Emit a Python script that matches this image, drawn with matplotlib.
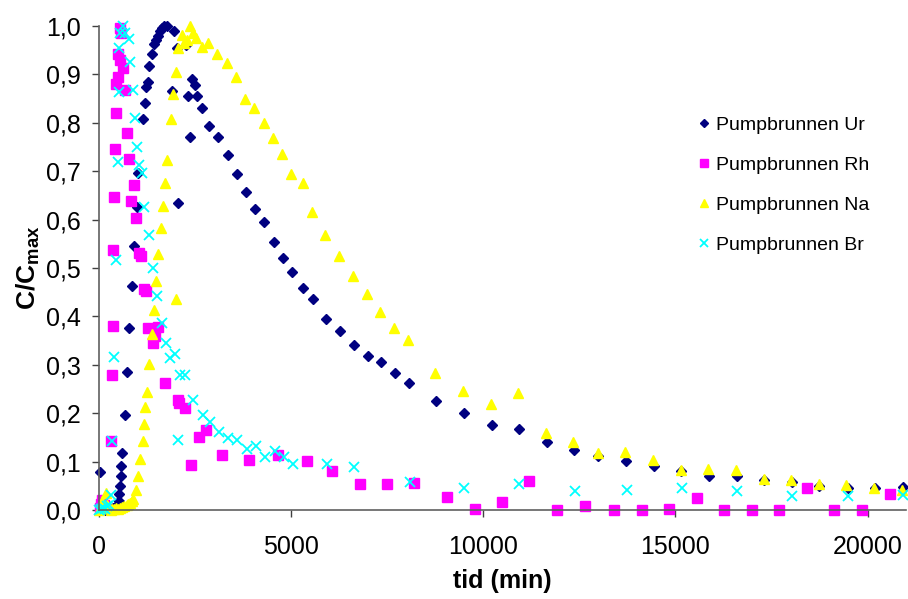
#!/usr/bin/env python3

import matplotlib
matplotlib.use('Agg')
import matplotlib.pyplot as plt
from matplotlib.ticker import FuncFormatter, MultipleLocator

# tid (min) and C/Cmax for each pumped well series
ur_t = [39, 150, 260, 360, 440, 516, 533, 551, 568, 585, 603, 672, 733, 785, 846,
        915, 984, 1020, 1150, 1193, 1236, 1270, 1314, 1392, 1436, 1496, 1548, 1600,
        1652, 1700, 1760, 1887, 1956, 2035, 2043, 2251, 2311, 2363, 2433, 2494, 2545,
        2693, 2867, 3101, 3344, 3586, 3830, 4072, 4306, 4549, 4783, 5027, 5321, 5563,
        5912, 6276, 6630, 6987, 7351, 7707, 8062, 8782, 9503, 10220, 10942, 11645,
        12365, 12990, 13718, 14437, 15157, 15879, 16597, 17317, 18037, 18749, 19484,
        20186, 20916]
ur_c = [0.079, 0.0, 0.002, 0.004, 0.008, 0.019, 0.033, 0.049, 0.070, 0.090, 0.118,
        0.197, 0.285, 0.377, 0.463, 0.545, 0.626, 0.697, 0.808, 0.841, 0.875, 0.885,
        0.917, 0.942, 0.963, 0.971, 0.980, 0.990, 0.995, 1.0, 1.0, 0.866, 0.990, 0.954,
        0.634, 0.960, 0.855, 0.770, 0.891, 0.878, 0.856, 0.830, 0.793, 0.770, 0.734,
        0.695, 0.656, 0.621, 0.596, 0.554, 0.521, 0.491, 0.459, 0.435, 0.394, 0.370,
        0.341, 0.318, 0.305, 0.283, 0.262, 0.226, 0.200, 0.175, 0.168, 0.141, 0.125,
        0.112, 0.102, 0.090, 0.080, 0.071, 0.070, 0.063, 0.058, 0.050, 0.046, 0.046,
        0.048]

rh_t = [20, 60, 83, 130, 325, 343, 360, 377, 403, 421, 447, 455, 490, 490, 551, 577,
        559, 620, 664, 733, 776, 837, 906, 967, 1028, 1088, 1158, 1218, 1280, 1400,
        1470, 1540, 1722, 2043, 2077, 2233, 2407, 2597, 2789, 3206, 3916, 4663, 5407,
        6068, 6786, 7499, 8210, 9050, 9779, 10492, 11202, 11931, 12652, 13414, 14124,
        14845, 15556, 16276, 16987, 17707, 18428, 19139, 19859, 20578]
rh_c = [0.005, 0.012, 0.021, 0.01, 0.142, 0.279, 0.381, 0.538, 0.647, 0.746, 0.820,
        0.880, 0.894, 0.942, 0.995, 0.985, 0.930, 0.913, 0.868, 0.778, 0.726, 0.639,
        0.671, 0.604, 0.530, 0.524, 0.456, 0.452, 0.376, 0.345, 0.359, 0.378, 0.262,
        0.228, 0.222, 0.211, 0.094, 0.150, 0.166, 0.114, 0.103, 0.114, 0.101, 0.080,
        0.054, 0.054, 0.056, 0.026, 0.003, 0.017, 0.060, 0.0, 0.008, 0.0, 0.0, 0.003,
        0.025, 0.0, 0.0, 0.0, 0.046, 0.0, 0.0, 0.034]

na_t = [0, 40, 83, 177, 220, 260, 300, 350, 400, 450, 500, 550, 600, 650, 720, 760,
        812, 850, 890, 958, 1020, 1071, 1132, 1176, 1210, 1262, 1306, 1375, 1427,
        1496, 1540, 1609, 1661, 1722, 1765, 1869, 1931, 1991, 2009, 2051, 2155, 2199,
        2295, 2363, 2441, 2528, 2675, 2849, 3083, 3326, 3570, 3804, 4046, 4281, 4523,
        4757, 5001, 5303, 5530, 5886, 6240, 6604, 6961, 7325, 7681, 8045, 8756, 9477,
        10196, 10916, 11627, 12347, 12990, 13700, 14421, 15139, 15860, 16581, 17300,
        18019, 18741, 19451, 20171, 20890]
na_c = [0.0, 0.005, 0.019, 0.036, 0.01, 0.005, 0.0, 0.002, 0.003, 0.005, 0.002,
        0.004, 0.006, 0.008, 0.010, 0.012, 0.014, 0.018, 0.023, 0.041, 0.070, 0.105,
        0.143, 0.178, 0.212, 0.243, 0.302, 0.363, 0.414, 0.473, 0.528, 0.583, 0.628,
        0.676, 0.723, 0.807, 0.859, 0.904, 0.435, 0.955, 0.982, 0.964, 0.971, 0.999,
        0.985, 0.976, 0.956, 0.964, 0.942, 0.923, 0.895, 0.849, 0.830, 0.799, 0.769,
        0.735, 0.695, 0.675, 0.615, 0.568, 0.524, 0.484, 0.447, 0.410, 0.377, 0.352,
        0.284, 0.245, 0.219, 0.242, 0.159, 0.141, 0.117, 0.119, 0.103, 0.082, 0.085,
        0.083, 0.065, 0.063, 0.053, 0.052, 0.046, 0.041]

br_t = [0, 50, 100, 150, 200, 250, 307, 343, 385, 447, 490, 516, 533, 551, 620, 664,
        776, 811, 880, 924, 993, 1036, 1115, 1184, 1297, 1414, 1514, 1645, 1756, 1835,
        1973, 2051, 2095, 2225, 2441, 2711, 2893, 3117, 3362, 3604, 3856, 4090, 4325,
        4567, 4809, 5043, 5928, 6648, 8080, 9511, 10942, 12381, 13734, 15176, 16614,
        18037, 19484, 20916]
br_c = [0.0, 0.002, 0.005, 0.003, 0.008, 0.01, 0.030, 0.142, 0.317, 0.517, 0.719,
        0.863, 0.954, 0.985, 0.999, 0.985, 0.973, 0.925, 0.868, 0.809, 0.750, 0.712,
        0.697, 0.626, 0.568, 0.499, 0.443, 0.387, 0.346, 0.315, 0.323, 0.145, 0.278,
        0.278, 0.228, 0.197, 0.181, 0.162, 0.149, 0.145, 0.126, 0.132, 0.110, 0.121,
        0.110, 0.096, 0.096, 0.088, 0.057, 0.046, 0.054, 0.039, 0.041, 0.046, 0.039,
        0.029, 0.028, 0.031]

plt.rcParams['font.family'] = ['Liberation Sans', 'DejaVu Sans']
plt.rcParams['mathtext.fontset'] = 'custom'
plt.rcParams['mathtext.bf'] = 'Liberation Sans:bold'

figure = plt.figure(figsize=(9.08, 5.99), dpi=100)
ax = figure.add_axes([99 / 908, 1 - 510 / 599, 807 / 908, 484 / 599])

ax.plot(ur_t, ur_c, linestyle='none', marker='D', ms=5.5, color='#000080',
        clip_on=False, label='Pumpbrunnen Ur')
ax.plot(rh_t, rh_c, linestyle='none', marker='s', ms=6.5, color='#ff00ff',
        clip_on=False, label='Pumpbrunnen Rh')
ax.plot(na_t, na_c, linestyle='none', marker='^', ms=7.5, color='#ffff00',
        clip_on=False, label='Pumpbrunnen Na')
ax.plot(br_t, br_c, linestyle='none', marker='x', ms=6.5, mew=1.3, color='#00ffff',
        clip_on=False, label='Pumpbrunnen Br')

ax.set_xlim(0, 21000)
ax.set_ylim(0, 1.0)
ax.xaxis.set_major_locator(MultipleLocator(5000))
ax.yaxis.set_major_locator(MultipleLocator(0.1))
ax.yaxis.set_major_formatter(FuncFormatter(lambda v, p: '{:.1f}'.format(v).replace('.', ',')))

for side in ('top', 'right'):
    ax.spines[side].set_visible(False)
for side in ('left', 'bottom'):
    ax.spines[side].set_color('#606060')
    ax.spines[side].set_linewidth(1.2)
ax.tick_params(axis='both', direction='out', length=5, width=1, color='#404040',
               labelsize=18)
ax.tick_params(axis='y', pad=8)
ax.tick_params(axis='x', pad=13)

ax.set_xlabel('tid (min)', fontsize=18, fontweight='bold', labelpad=7)
ax.set_ylabel(r'$\mathbf{C/C_{max}}$', fontsize=19, labelpad=3)

legend = ax.legend(loc='center left', bbox_to_anchor=(699 / 908, 1 - 185.3 / 599),
                   bbox_transform=figure.transFigure, frameon=False, fontsize=14,
                   handlelength=0.5, handletextpad=0.4, labelspacing=1.15,
                   borderpad=0, borderaxespad=0, markerscale=0.8)

figure.savefig('out.png', dpi=100)
plt.close(figure)
